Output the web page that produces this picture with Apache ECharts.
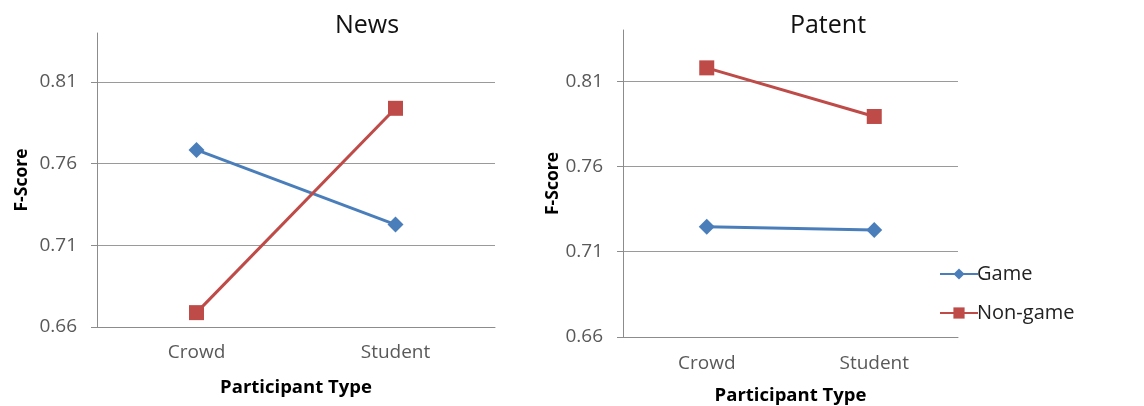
<!DOCTYPE html>
<html>
<head>
<meta charset="utf-8">
<script src="https://cdn.jsdelivr.net/npm/echarts@6/dist/echarts.min.js"></script>
<style>html,body{margin:0;padding:0;background:#fff}#c{width:1144px;height:406px}</style>
</head>
<body>
<div id="c"></div>
<script>
var categories = ['Crowd', 'Student'];
var panelTitles = ['News', 'Patent'];
var seriesNames = ['Game', 'Non-game'];
var newsGame = [0.7684, 0.7227];
var newsNonGame = [0.6688, 0.7939];
var patentGame = [0.7246, 0.7227];
var patentNonGame = [0.8178, 0.7893];
var yMin = 0.66, yMax = 0.84, yStep = 0.05;

var FONT = '"Open Sans", "Liberation Sans", sans-serif';
var BLUE = '#4a7ebb', RED = '#be4b48';
var chart = echarts.init(document.getElementById('c'), null, {renderer: 'canvas'});

function yAx(idx, gap) {
  return {
    type: 'value', gridIndex: idx, min: yMin, max: yMax, interval: yStep,
    name: 'F-Score', nameLocation: 'middle', nameGap: gap, nameRotate: 90,
    nameTextStyle: {fontFamily: FONT, fontSize: 17.5, fontWeight: 'bold', color: '#000'},
    axisLine: {show: true, lineStyle: {color: '#8c8c8c', width: 1}},
    axisTick: {show: true, length: 6, lineStyle: {color: '#8c8c8c'}},
    axisLabel: {fontFamily: FONT, fontSize: 19, color: '#595959', margin: 20, showMaxLabel: false,
      formatter: function (v) { return v.toFixed(2); }},
    splitLine: {show: true, showMaxLine: false, lineStyle: {color: '#9a9a9a', width: 1}}
  };
}
function xAx(idx, gap, lblMargin) {
  return {
    type: 'category', gridIndex: idx, data: categories, boundaryGap: true,
    name: 'Participant Type', nameLocation: 'middle', nameGap: gap,
    nameTextStyle: {fontFamily: FONT, fontSize: 18.5, fontWeight: 'bold', color: '#000'},
    axisLine: {show: true, lineStyle: {color: '#8c8c8c', width: 1}},
    axisTick: {show: false},
    axisLabel: {fontFamily: FONT, fontSize: 19, color: '#595959', margin: lblMargin}
  };
}
function ser(name, idx, data, color, symbol, size) {
  return {
    name: name, type: 'line', xAxisIndex: idx, yAxisIndex: idx, data: data,
    symbol: symbol, symbolSize: size, showSymbol: true,
    lineStyle: {color: color, width: 3}, itemStyle: {color: color},
    emphasis: {disabled: true}, animation: false
  };
}

chart.setOption({
  animation: false,
  backgroundColor: '#fff',
  title: [
    {text: panelTitles[0], left: 362, top: 8, textAlign: 'center',
     textStyle: {fontFamily: FONT, fontSize: 25, fontWeight: 'normal', color: '#111'}},
    {text: panelTitles[1], left: 823, top: 8, textAlign: 'center',
     textStyle: {fontFamily: FONT, fontSize: 25, fontWeight: 'normal', color: '#111'}}
  ],
  grid: [
    {left: 97, right: 649, top: 33, bottom: 79, containLabel: false, outerBoundsMode: 'none'},
    {left: 623, right: 186, top: 30, bottom: 69, containLabel: false, outerBoundsMode: 'none'}
  ],
  xAxis: [xAx(0, 51, 16), xAx(1, 49, 17)],
  yAxis: [yAx(0, 66), yAx(1, 54)],
  legend: {
    orient: 'vertical', left: 934, top: 259, itemWidth: 38, itemHeight: 14, itemGap: 19,
    data: seriesNames,
    textStyle: {fontFamily: FONT, fontSize: 20, color: '#222', padding: [0, 0, 0, -6]}
  },
  series: [
    ser(seriesNames[0], 0, newsGame, BLUE, 'diamond', 16),
    ser(seriesNames[1], 0, newsNonGame, RED, 'rect', 15),
    ser(seriesNames[0], 1, patentGame, BLUE, 'diamond', 16),
    ser(seriesNames[1], 1, patentNonGame, RED, 'rect', 15)
  ]
});
</script>
</body>
</html>
